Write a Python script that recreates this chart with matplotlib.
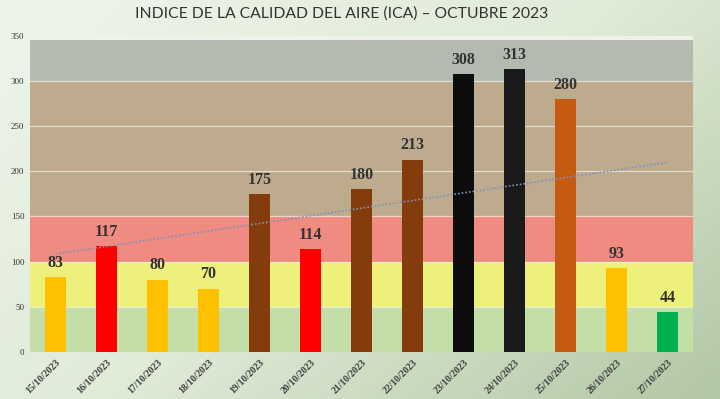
import numpy as np
import matplotlib.pyplot as plt
from matplotlib.colors import LinearSegmentedColormap

# datos del gráfico
fechas = ['15/10/2023', '16/10/2023', '17/10/2023', '18/10/2023', '19/10/2023',
          '20/10/2023', '21/10/2023', '22/10/2023', '23/10/2023', '24/10/2023',
          '25/10/2023', '26/10/2023', '27/10/2023']
ica = [83, 117, 80, 70, 175, 114, 180, 213, 308, 313, 280, 93, 44]
colores = ['#ffc000', '#ff0000', '#ffc000', '#ffc000', '#843c0c', '#ff0000',
           '#843c0c', '#843c0c', '#0d0d0d', '#1a1a1a', '#c55a11', '#ffc000', '#00b050']

# bandas de calidad del aire (límite inferior, superior, color)
bandas_lim = [0, 50, 100, 150, 300, 350]
bandas_col = ['#c3dea6', '#eef07c', '#ef8b80', '#beab8e', '#b3bab0']

fig = plt.figure(figsize=(7.2, 3.99), dpi=100)

# fondo degradado verde
bg = fig.add_axes([0, 0, 1, 1], zorder=-10)
gx, gy = np.meshgrid(np.linspace(0, 1, 200), np.linspace(0, 1, 120))
grad = 0.7 * gx + 0.5 * gy
cmap = LinearSegmentedColormap.from_list('bg', ['#eef4ea', '#e0ebd8', '#b2c7a5'])
bg.imshow(grad, cmap=cmap, aspect='auto', extent=[0, 1, 0, 1], origin='upper')
bg.axis('off')

ax = fig.add_axes([0.0417, 0.118, 0.9208, 0.792])
ax.set_facecolor('none')

for i in range(len(bandas_col)):
    ax.axhspan(bandas_lim[i], bandas_lim[i + 1], color=bandas_col[i], zorder=0, lw=0)
for y in [50, 100, 150, 200, 250, 300]:
    ax.axhline(y, color='#f2f2ea', lw=0.9, alpha=0.7, zorder=1)
ax.axhspan(346, 350, color='#eef2ea', zorder=1, lw=0)

x = np.arange(len(fechas))
ax.bar(x, ica, width=0.42, color=colores, zorder=2)

for xi, v in zip(x, ica):
    ax.text(xi, v + 7, str(v), ha='center', va='bottom', fontsize=11.5,
            fontweight='bold', family='Liberation Serif', color='#333333', zorder=4)

# línea de tendencia lineal
m, b = np.polyfit(x, ica, 1)
ax.plot(x, m * x + b, ls=(0, (1, 1.2)), color='#7d92bd', lw=1.2, zorder=3)

ax.set_xlim(-0.5, len(fechas) - 0.5)
ax.set_ylim(0, 350)
ax.set_yticks(range(0, 351, 50))
ax.set_yticklabels([str(v) for v in range(0, 351, 50)], family='Liberation Serif',
                   fontsize=6.5, color='#333333')
ax.set_xticks(x)
ax.set_xticklabels(fechas, rotation=45, ha='right', rotation_mode='anchor',
                   family='Liberation Serif', fontsize=7, fontweight='bold', color='#404040')
ax.tick_params(length=0, pad=4)
for s in ax.spines.values():
    s.set_visible(False)

fig.text(0.474, 0.965, 'INDICE DE LA CALIDAD DEL AIRE (ICA) – OCTUBRE 2023', ha='center',
         va='center', fontsize=11.3, family='Lato', fontweight='normal', color='#333333')

fig.savefig('out.png', dpi=100)
